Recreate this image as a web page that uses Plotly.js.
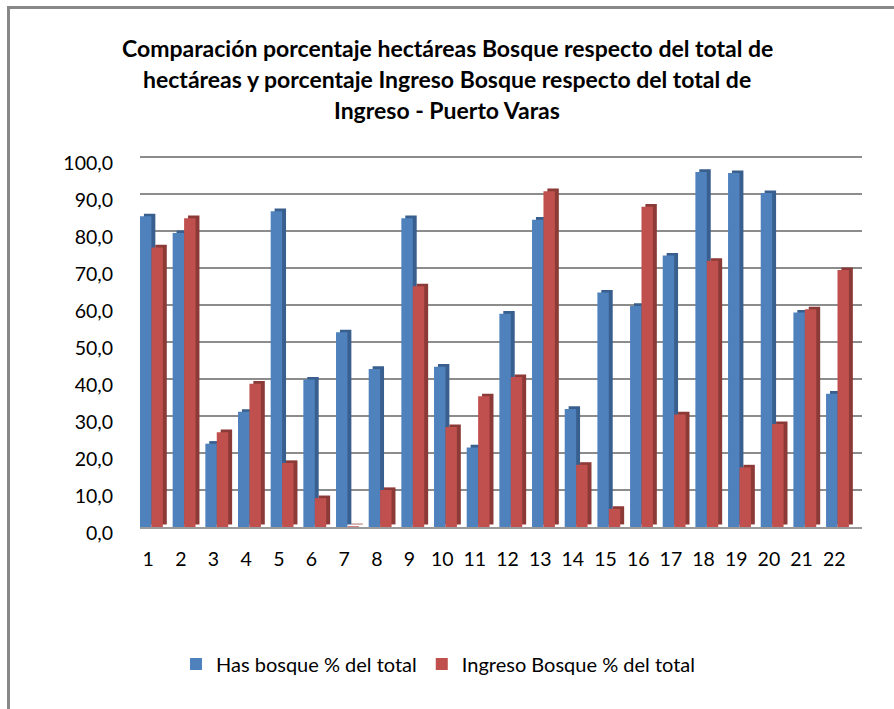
<!DOCTYPE html>
<html>
<head>
<meta charset="utf-8">
<script src="https://cdn.plot.ly/plotly-3.0.1.min.js"></script>
<style>
  html, body { margin: 0; padding: 0; background: #fff; }
  #chart { width: 894px; height: 709px; }
  #frame { position: absolute; left: 7px; top: 6px; width: 1000px; height: 1000px;
           border-left: 3px solid #888; border-top: 3px solid #888; pointer-events: none; }
</style>
</head>
<body>
<div id="chart"></div>
<div id="frame"></div>
<script>
// ---- data ----
const categories = ["1","2","3","4","5","6","7","8","9","10","11","12","13","14","15","16","17","18","19","20","21","22"];
const hasBosque = [83.9, 79.4, 22.5, 31.1, 85.3, 39.8, 52.6, 42.7, 83.4, 43.3, 21.5, 57.6, 83.0, 31.9, 63.3, 59.7, 73.3, 95.9, 95.6, 90.2, 57.9, 36.0];
const ingresoBosque = [75.5, 83.4, 25.6, 38.7, 17.3, 7.8, 0.2, 10.0, 65.0, 27.0, 35.3, 40.5, 90.7, 16.8, 4.9, 86.5, 30.4, 71.9, 16.1, 27.8, 58.8, 69.4];
const seriesNames = ["Has bosque % del total", "Ingreso Bosque % del total"];
const yTicks = [0, 10, 20, 30, 40, 50, 60, 70, 80, 90, 100];
const titleLines = [
  "Comparación porcentaje hectáreas Bosque respecto del total de",
  "hectáreas y porcentaje Ingreso Bosque respecto del total de",
  "Ingreso - Puerto Varas"
];

// ---- styling ----
const FONT = "Lato, 'Open Sans', sans-serif";
const W = 0.35, DEPTH = 0.12, LIFT = 0.7;
const xNum = categories.map((c, i) => i + 1);

function shadow(vals, off, color) {
  return { type: "bar", x: xNum, y: vals, base: LIFT, offset: off + DEPTH, width: W,
           marker: { color: color, line: { width: 0 } }, showlegend: false, hoverinfo: "skip" };
}
function front(vals, off, color, name) {
  return { type: "bar", x: xNum, y: vals, offset: off, width: W, name: name,
           marker: { color: color, line: { width: 0 } } };
}

const traces = [
  shadow(hasBosque, -0.25, "#395F8E"),
  front(hasBosque, -0.25, "#4F81BD", seriesNames[0]),
  shadow(ingresoBosque, 0.10, "#8C3A37"),
  front(ingresoBosque, 0.10, "#C0504D", seriesNames[1])
];

const YMAX = 101;
const pBottom = 527, pLeft = 140, pRight = 862;
const pxPerUnit = 3.7;
const pTop = Math.round(pBottom - YMAX * pxPerUnit);
const ph = pBottom - pTop, pw = pRight - pLeft;
const annotations = titleLines.map((t, i) => ({
  text: "<b>" + t + "</b>", xref: "paper", yref: "paper",
  x: (447 - pLeft) / pw, y: (pBottom - [48, 79, 110][i]) / ph,
  xanchor: "center", yanchor: "middle", showarrow: false,
  font: { family: FONT, size: 23, color: "#000" }
}));

const layout = {
  width: 894, height: 709,
  margin: { l: pLeft, r: 894 - pRight, t: pTop, b: 709 - pBottom, pad: 0 },
  paper_bgcolor: "#fff", plot_bgcolor: "#fff",
  barmode: "overlay",
  separators: ",.",
  font: { family: FONT, size: 19.5, color: "#000" },
  xaxis: {
    range: [0.75, 22.85], tickmode: "array", tickvals: xNum, ticktext: categories,
    showgrid: false, zeroline: false, showline: true, linecolor: "#9a9a9a", linewidth: 2,
    ticks: "", ticklabelstandoff: 14, tickfont: { family: FONT, size: 19.5, color: "#000" }
  },
  yaxis: {
    range: [0, YMAX], tickmode: "array", tickvals: yTicks, tickformat: ".1f",
    showgrid: true, gridcolor: "#8c8c8c", gridwidth: 2, zeroline: false, showline: false,
    ticks: "", ticklabelstandoff: 26, ticklabelshift: 6,
    tickfont: { family: FONT, size: 19.5, color: "#000" }
  },
  legend: {
    orientation: "h", x: (176 - pLeft) / pw, xanchor: "left",
    y: (pBottom - 664) / ph, yanchor: "middle",
    font: { family: FONT, size: 20, color: "#000" }, bgcolor: "rgba(0,0,0,0)"
  },
  annotations: annotations,
  showlegend: true
};

Plotly.newPlot("chart", traces, layout, { displayModeBar: false, staticPlot: true });
</script>
</body>
</html>
